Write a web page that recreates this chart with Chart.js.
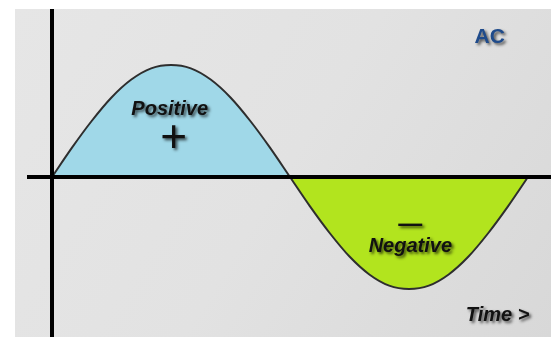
<!DOCTYPE html>
<html lang="en">
<head>
    <meta charset="UTF-8">
    <title>AC</title>
    <style>
        body {
            margin: 0;
            background: #ffffff;
        }
        .chart-box {
            width: 551px;
            height: 337px;
            position: relative;
        }
    </style>
    <script src="https://cdn.jsdelivr.net/npm/chart.js"></script>
</head>
<body>
    <div class="chart-box">
        <canvas id="acChart"></canvas>
    </div>
    <script>
        // phase in degrees (peak = 1)
        const positivePhase = [0, 15, 30, 45, 60, 75, 90, 105, 120, 135, 150, 165, 180];
        const positiveValues = [0, 0.26, 0.5, 0.71, 0.87, 0.97, 1, 0.97, 0.87, 0.71, 0.5, 0.26, 0];
        const negativePhase = [180, 195, 210, 225, 240, 255, 270, 285, 300, 315, 330, 345, 360];
        const negativeValues = [0, -0.26, -0.5, -0.71, -0.87, -0.97, -1, -0.97, -0.87, -0.71, -0.5, -0.26, 0];

        // text placed in data units
        const labelTexts = ['AC', 'Positive', '+', '\u2014', 'Negative', 'Time >'];
        const labelPhase = [331, 89, 92, 271, 271, 337];
        const labelValues = [1.2, 0.55, 0.22, -0.48, -0.67, -1.286];

        function toPoints(xs, ys) {
            return xs.map((x, i) => ({ x: x, y: ys[i] }));
        }

        const labelStyles = [
            { font: 'bold 21px "Liberation Sans", Arial, sans-serif', color: '#1f4b8b' },
            { font: 'italic bold 20px "Liberation Sans", Arial, sans-serif', color: '#111111' },
            { font: '46px "Liberation Sans", Arial, sans-serif', color: '#111111' },
            { font: 'bold 24px "Liberation Sans", Arial, sans-serif', color: '#111111' },
            { font: 'italic bold 20px "Liberation Sans", Arial, sans-serif', color: '#111111' },
            { font: 'italic bold 20px "Liberation Sans", Arial, sans-serif', color: '#111111' }
        ];

        const backdrop = {
            id: 'backdrop',
            beforeDraw(chart) {
                const ctx = chart.ctx;
                const g = ctx.createLinearGradient(15, 9, 551, 337);
                g.addColorStop(0, '#e6e6e6');
                g.addColorStop(0.5, '#e2e2e2');
                g.addColorStop(1, '#d8d8d8');
                ctx.save();
                ctx.fillStyle = g;
                ctx.fillRect(15, 9, 536, 328);
                ctx.restore();
            }
        };

        const textLabels = {
            id: 'textLabels',
            afterDraw(chart) {
                const ctx = chart.ctx;
                const xs = chart.scales.x;
                const ys = chart.scales.y;
                ctx.save();
                ctx.textAlign = 'center';
                ctx.textBaseline = 'alphabetic';
                ctx.shadowColor = 'rgba(0,0,0,0.65)';
                ctx.shadowBlur = 3;
                ctx.shadowOffsetX = 2;
                ctx.shadowOffsetY = 2;
                labelTexts.forEach((t, i) => {
                    ctx.font = labelStyles[i].font;
                    ctx.fillStyle = labelStyles[i].color;
                    ctx.fillText(t, xs.getPixelForValue(labelPhase[i]), ys.getPixelForValue(labelValues[i]));
                });
                ctx.restore();
            }
        };

        function zeroOnly(scale) {
            scale.ticks = [{ value: 0 }];
        }

        new Chart(document.getElementById('acChart'), {
            type: 'line',
            data: {
                datasets: [{
                    data: toPoints(positivePhase, positiveValues),
                    borderColor: '#2e2e2e',
                    borderWidth: 2,
                    backgroundColor: '#a0d8e8',
                    fill: 'origin',
                    pointRadius: 0,
                    cubicInterpolationMode: 'monotone'
                }, {
                    data: toPoints(negativePhase, negativeValues),
                    borderColor: '#2e2e2e',
                    borderWidth: 2,
                    backgroundColor: '#b2e41e',
                    fill: 'origin',
                    pointRadius: 0,
                    cubicInterpolationMode: 'monotone'
                }]
            },
            options: {
                responsive: true,
                maintainAspectRatio: false,
                animation: false,
                layout: { padding: { left: 27, top: 9, right: 0, bottom: 0 } },
                plugins: {
                    legend: { display: false },
                    tooltip: { enabled: false }
                },
                scales: {
                    x: {
                        type: 'linear',
                        min: -18.9,
                        max: 377.4,
                        afterBuildTicks: zeroOnly,
                        border: { display: false },
                        ticks: { display: false },
                        grid: { color: '#000000', lineWidth: 4, drawTicks: false, z: 1 }
                    },
                    y: {
                        type: 'linear',
                        min: -1.4286,
                        max: 1.5,
                        afterBuildTicks: zeroOnly,
                        border: { display: false },
                        ticks: { display: false },
                        grid: { color: '#000000', lineWidth: 4, drawTicks: false, z: 1 }
                    }
                }
            },
            plugins: [backdrop, textLabels]
        });
    </script>
</body>
</html>
